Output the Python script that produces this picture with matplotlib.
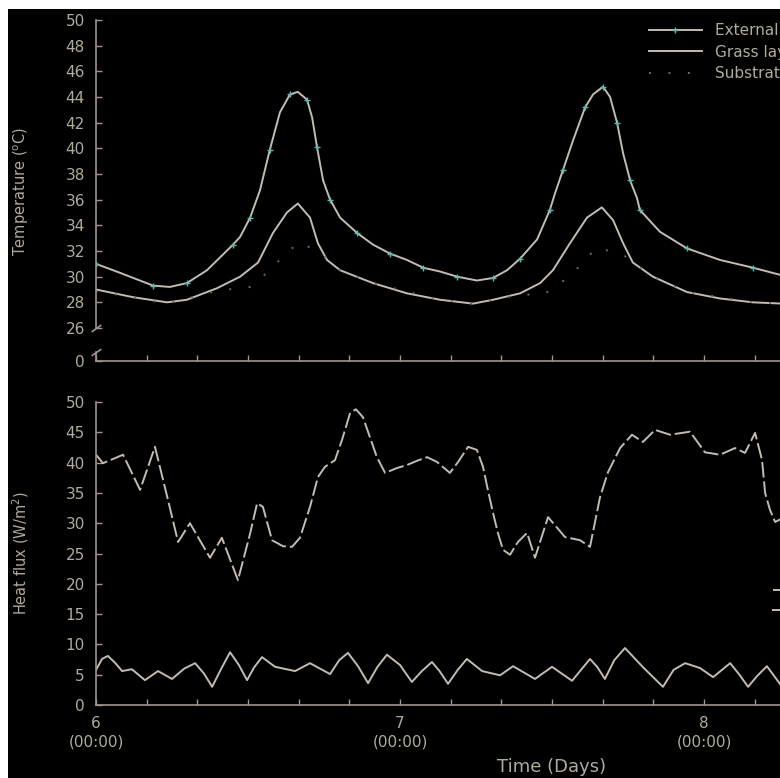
import matplotlib
matplotlib.use("Agg")
import matplotlib.pyplot as plt
from matplotlib.patches import Rectangle
import numpy as np

# ---- data (time in days) ----
ext_t = [6.000, 6.079, 6.188, 6.243, 6.299, 6.365, 6.451, 6.474, 6.507, 6.539,
         6.572, 6.605, 6.638, 6.664, 6.694, 6.711, 6.727, 6.747, 6.770, 6.803,
         6.859, 6.911, 6.967, 7.023, 7.076, 7.132, 7.188, 7.253, 7.306, 7.352,
         7.395, 7.451, 7.493, 7.510, 7.536, 7.569, 7.609, 7.635, 7.668, 7.691,
         7.714, 7.734, 7.757, 7.780, 7.789, 7.855, 7.944, 8.053, 8.161, 8.257]
ext_T = [31.0, 30.3, 29.3, 29.2, 29.5, 30.5, 32.5, 33.1, 34.6, 36.7,
         39.9, 42.8, 44.2, 44.4, 43.8, 42.4, 40.1, 37.5, 36.0, 34.6,
         33.4, 32.5, 31.8, 31.3, 30.7, 30.4, 30.0, 29.7, 29.9, 30.5,
         31.4, 32.9, 35.2, 36.5, 38.3, 40.6, 43.2, 44.2, 44.8, 44.0,
         42.0, 39.6, 37.5, 36.1, 35.2, 33.5, 32.2, 31.3, 30.7, 30.1]

grass_t = [6.000, 6.122, 6.234, 6.299, 6.398, 6.474, 6.533, 6.582, 6.628, 6.664,
           6.704, 6.730, 6.760, 6.803, 6.911, 7.023, 7.132, 7.240, 7.306, 7.395,
           7.461, 7.503, 7.559, 7.615, 7.664, 7.701, 7.734, 7.766, 7.832, 7.944,
           8.053, 8.161, 8.257]
grass_T = [29.0, 28.4, 28.0, 28.2, 29.1, 30.0, 31.1, 33.4, 35.0, 35.7,
           34.6, 32.6, 31.3, 30.5, 29.5, 28.7, 28.2, 27.9, 28.2, 28.7,
           29.5, 30.5, 32.6, 34.6, 35.4, 34.4, 32.6, 31.1, 30.0, 28.8,
           28.3, 28.0, 27.9]

subs_t = [6.000, 6.234, 6.398, 6.507, 6.582, 6.618, 6.671, 6.740, 6.803, 6.911,
          7.132, 7.240, 7.395, 7.467, 7.510, 7.586, 7.648, 7.740, 7.832, 7.944,
          8.161, 8.257]
subs_T = [28.9, 27.9, 28.9, 29.2, 30.7, 31.7, 32.7, 31.8, 30.5, 29.5,
          28.2, 27.9, 28.6, 28.6, 29.1, 30.7, 32.3, 31.6, 30.0, 28.8,
          28.0, 27.9]

flux1_t = [6.000, 6.023, 6.089, 6.145, 6.194, 6.237, 6.270, 6.309, 6.375, 6.414,
           6.467, 6.507, 6.530, 6.549, 6.579, 6.615, 6.645, 6.671, 6.704, 6.730,
           6.753, 6.786, 6.809, 6.836, 6.855, 6.878, 6.901, 6.924, 6.951, 6.990,
           7.023, 7.056, 7.089, 7.122, 7.164, 7.191, 7.224, 7.253, 7.273, 7.289,
           7.306, 7.322, 7.339, 7.362, 7.388, 7.418, 7.444, 7.487, 7.543, 7.592,
           7.625, 7.658, 7.684, 7.724, 7.763, 7.799, 7.839, 7.888, 7.954, 8.003,
           8.053, 8.102, 8.135, 8.168, 8.191, 8.201, 8.217, 8.234, 8.257]
flux1 = [41.3, 39.9, 41.3, 35.5, 42.6, 33.8, 26.9, 30.0, 24.3, 27.6,
         20.6, 28.3, 33.3, 32.7, 27.2, 26.2, 26.1, 27.6, 32.7, 37.6,
         39.3, 40.4, 43.7, 48.2, 48.8, 47.5, 44.2, 40.9, 38.3, 39.1,
         39.6, 40.3, 40.9, 40.1, 38.3, 40.1, 42.6, 42.1, 39.3, 35.5,
         31.7, 28.4, 25.6, 24.8, 26.9, 28.4, 24.3, 31.0, 27.7, 27.2,
         26.1, 34.3, 38.4, 42.4, 44.6, 43.4, 45.4, 44.6, 45.1, 41.7,
         41.3, 42.4, 41.6, 44.9, 40.4, 35.0, 32.2, 30.2, 30.8]

flux2_t = [6.000, 6.020, 6.039, 6.062, 6.086, 6.118, 6.161, 6.204, 6.250, 6.290,
           6.326, 6.355, 6.382, 6.410, 6.441, 6.470, 6.497, 6.520, 6.546, 6.589,
           6.655, 6.704, 6.770, 6.800, 6.829, 6.862, 6.895, 6.926, 6.957, 7.000,
           7.039, 7.072, 7.105, 7.130, 7.158, 7.190, 7.220, 7.270, 7.329, 7.372,
           7.444, 7.500, 7.566, 7.625, 7.650, 7.674, 7.705, 7.740, 7.800, 7.865,
           7.900, 7.938, 7.987, 8.030, 8.086, 8.115, 8.145, 8.175, 8.207, 8.257]
flux2 = [5.8, 7.6, 8.1, 7.0, 5.6, 5.9, 4.1, 5.6, 4.3, 6.0,
         6.9, 5.2, 3.0, 5.8, 8.7, 6.6, 4.1, 6.2, 7.9, 6.3,
         5.6, 6.9, 5.1, 7.4, 8.6, 6.4, 3.6, 6.3, 8.3, 6.6,
         3.8, 5.6, 7.1, 5.6, 3.5, 5.8, 7.6, 5.6, 4.9, 6.4,
         4.3, 6.3, 4.0, 7.6, 6.2, 4.3, 7.4, 9.4, 6.2, 3.0,
         5.8, 6.9, 6.1, 4.6, 6.9, 5.1, 3.0, 4.8, 6.4, 3.0]

temp_ticks = np.arange(26, 51, 2)
flux_ticks = np.arange(0, 51, 5)
day_ticks = [6, 7, 8, 9]
day_labels = ['6\n(00:00)', '7\n(00:00)', '8\n(00:00)', '9\n(00:00)']

line_c = '#c4bcb2'
spine_c = '#a39490'
text_c = '#b2aa9c'

fig = plt.figure(figsize=(7.8, 7.78), dpi=100)
fig.patch.set_facecolor('white')
fig.add_artist(Rectangle((8 / 780, 0), 1, 1 - 9 / 778, transform=fig.transFigure,
                         facecolor='black', edgecolor='none', zorder=-10))

L, W = 96 / 780, 912 / 780
ax_t = fig.add_axes([L, 1 - 328 / 778, W, 308 / 778])
ax_z = fig.add_axes([L, 1 - 361 / 778, W, 9 / 778])
ax_b = fig.add_axes([L, 1 - 705 / 778, W, 303 / 778])


def style(ax):
    ax.set_facecolor('none')
    for s in ['top', 'right']:
        ax.spines[s].set_visible(False)
    for s in ['left', 'bottom']:
        ax.spines[s].set_color(spine_c)
        ax.spines[s].set_linewidth(1.2)
    ax.tick_params(which='both', direction='in', length=4, width=1,
                   color=spine_c, labelcolor=text_c, labelsize=11, pad=8)
    ax.set_xlim(6, 9)


for ax in (ax_t, ax_z, ax_b):
    style(ax)

# temperature panel
ax_t.plot(ext_t, ext_T, color=line_c, lw=1.4, marker='+', ms=4, mec='#5fb8b0',
          markevery=2, label='External surface')
ax_t.plot(grass_t, grass_T, color=line_c, lw=1.4, label='Grass layer')
ax_t.plot(subs_t, subs_T, color='#6e6a64', lw=1.4, ls=(0, (1, 9)), label='Substrate')
ax_t.set_ylim(26, 50)
ax_t.set_yticks(temp_ticks)
ax_t.spines['bottom'].set_visible(False)
ax_t.tick_params(axis='x', which='both', bottom=False, labelbottom=False)
leg = ax_t.legend(loc='upper left', bbox_to_anchor=(0.606, 0.99), frameon=False,
                  fontsize=11, handlelength=3.5, handletextpad=0.85,
                  labelspacing=0.43, borderpad=0, borderaxespad=0)
for t in leg.get_texts():
    t.set_color(text_c)

# zero stub of the broken axis
ax_z.set_ylim(0, 1)
ax_z.set_yticks([0])
ax_z.set_xticks(day_ticks)
ax_z.set_xticks(np.arange(6, 9.01, 1 / 6), minor=True)
ax_z.tick_params(axis='x', which='both', labelbottom=False)

brk = dict(marker=[(-1, -0.7), (1, 0.7)], markersize=7, linestyle='none',
           color=spine_c, mec=spine_c, mew=1.2, clip_on=False)
ax_t.plot([0], [0], transform=ax_t.transAxes, **brk)
ax_z.plot([0], [1], transform=ax_z.transAxes, **brk)

# heat flux panel
ax_b.plot(flux1_t, flux1, color=line_c, lw=1.4, ls=(0, (8, 2)), label='Heat flux (in)')
ax_b.plot(flux2_t, flux2, color=line_c, lw=1.4, label='Heat flux (out)')
ax_b.set_ylim(0, 50)
ax_b.set_yticks(flux_ticks)
ax_b.set_xticks(day_ticks)
ax_b.set_xticklabels(day_labels, linespacing=1.3)
ax_b.set_xticks(np.arange(6, 9.01, 1 / 6), minor=True)
ax_b.set_xlabel('Time (Days)', color=text_c, fontsize=13, labelpad=6)
leg2 = ax_b.legend(loc='upper left', bbox_to_anchor=(0.742, 0.403), frameon=False,
                   fontsize=11, handlelength=3.5, labelspacing=0.33,
                   borderpad=0, borderaxespad=0)
for t in leg2.get_texts():
    t.set_color(text_c)

fig.text(21 / 780, 1 - 191 / 778, r'Temperature ($\mathregular{^{o}}$C)', rotation=90,
         ha='center', va='center', color=text_c, fontsize=10.5)
fig.text(21 / 780, 1 - 553 / 778, r'Heat flux (W/m$\mathregular{^{2}}$)', rotation=90,
         ha='center', va='center', color=text_c, fontsize=10.5)

fig.savefig('out.png', dpi=100, facecolor=fig.get_facecolor())
